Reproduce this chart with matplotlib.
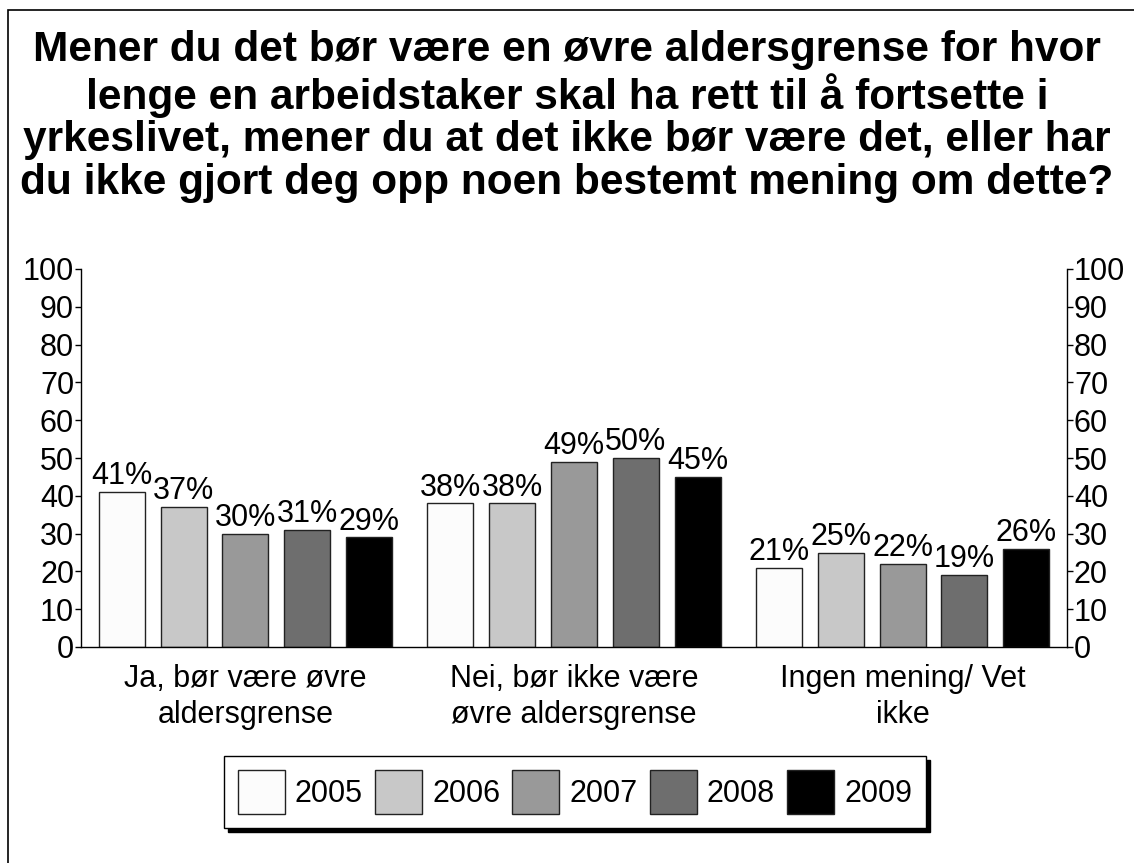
import numpy as np
import matplotlib
matplotlib.use("Agg")
import matplotlib.pyplot as plt
from matplotlib.patches import Rectangle

plt.rcParams['font.family'] = ['Liberation Sans', 'DejaVu Sans']

title = ("Mener du det bør være en øvre aldersgrense for hvor\n"
         "lenge en arbeidstaker skal ha rett til å fortsette i\n"
         "yrkeslivet, mener du at det ikke bør være det, eller har\n"
         "du ikke gjort deg opp noen bestemt mening om dette?")
categories = ["Ja, bør være øvre\naldersgrense",
              "Nei, bør ikke være\nøvre aldersgrense",
              "Ingen mening/ Vet\nikke"]
years = ["2005", "2006", "2007", "2008", "2009"]
values = {
    "2005": [41, 38, 21],
    "2006": [37, 38, 25],
    "2007": [30, 49, 22],
    "2008": [31, 50, 19],
    "2009": [29, 45, 26],
}
colors = ["#fcfcfc", "#c8c8c8", "#999999", "#6e6e6e", "#000000"]

fig = plt.figure(figsize=(11.34, 8.63), dpi=100, facecolor='white')
# outer frame (runs off the right/bottom edge like the original)
fig.patches.append(Rectangle((8/1134, -0.05), 1.2, (1 - 10/863) + 0.05,
                             transform=fig.transFigure, fill=False,
                             edgecolor='black', lw=1.2))

fig.text(0.5, 1 - 30/863, title, ha='center', va='top', fontsize=30.5,
         fontweight='bold', linespacing=1.08)

ax = fig.add_axes([81/1134, 1 - 647/863, (1067 - 81)/1134, (647 - 269)/863])
x = np.arange(len(categories))
pitch, width = 0.188, 0.14
for i, (yr, c) in enumerate(zip(years, colors)):
    pos = x + (i - 2) * pitch
    ax.bar(pos, values[yr], width, color=c, edgecolor='#222222', lw=1, label=yr)
    for p, v in zip(pos, values[yr]):
        ax.text(p, v + 0.2, f"{v}%", ha='center', va='bottom', fontsize=22)

ax.set_xlim(-0.5, 2.5)
ax.set_ylim(0, 100)
ax.set_yticks(range(0, 101, 10))
ax.tick_params(axis='y', which='both', left=True, right=True,
               labelleft=True, labelright=True, labelsize=22,
               length=4, width=1, pad=1, direction='out')
ax.set_xticks(x)
ax.set_xticklabels(categories, fontsize=22, linespacing=1.28)
ax.tick_params(axis='x', length=0, pad=12)
ax.spines['top'].set_visible(False)
for s in ['left', 'right', 'bottom']:
    ax.spines[s].set_linewidth(1)

leg = fig.legend(loc='center', bbox_to_anchor=(575/1134, 1 - 792/863),
                 ncol=5, fontsize=22, frameon=True, fancybox=False,
                 edgecolor='black', framealpha=1,
                 shadow={'color': 'black', 'alpha': 1, 'ox': 3, 'oy': -3},
                 handlelength=1.54, handleheight=1.85, handletextpad=0.33,
                 columnspacing=0.4, borderpad=0.45, borderaxespad=0)
leg.get_frame().set_linewidth(1)

fig.savefig("out.png", dpi=100, facecolor='white')
